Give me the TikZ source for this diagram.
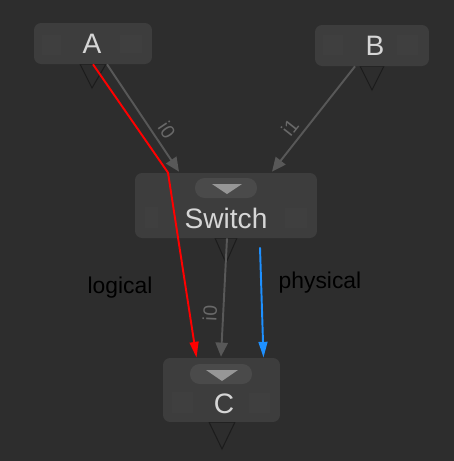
\documentclass[tikz,border=0pt]{standalone}
\usepackage{fontspec}
\setmainfont{Liberation Sans}
\usetikzlibrary{calc}
\usetikzlibrary{positioning}
\usetikzlibrary{arrows.meta}
\definecolor{bg}{RGB}{45,45,45}
\definecolor{nodegray}{RGB}{61,61,61}
\definecolor{pillgray}{RGB}{74,74,74}
\definecolor{padgray}{RGB}{63,63,63}
\definecolor{textgray}{RGB}{214,214,214}
\definecolor{markgray}{RGB}{150,150,150}
\definecolor{edgegray}{RGB}{88,88,88}
\definecolor{labelgray}{RGB}{105,105,105}
\definecolor{outgray}{RGB}{28,28,28}
\definecolor{logicred}{RGB}{255,0,0}
\definecolor{physblue}{RGB}{30,144,255}

\tikzset{
	opbox/.style={fill=nodegray, rounded corners=4pt, inner sep=0pt, text=textgray, font=\fontsize{16}{16}\selectfont},
	oppill/.style={fill=pillgray, rounded corners=5.5pt, inner sep=0pt, minimum width=1.24cm, minimum height=0.4cm},
	optext/.style={text=textgray, font=\fontsize{16}{16}\selectfont, inner sep=0pt},
	outtri/.style={draw=outgray, line width=0.6pt},
	pad/.style={fill=padgray},
	wire/.style={draw=edgegray, line width=1.1pt, -{Triangle[length=8pt,width=7pt]}},
	wirelabel/.style={text=labelgray, font=\fontsize{11}{11}\selectfont, sloped, above=2pt, inner sep=1pt},
	route/.style={line width=1.1pt, -{Triangle[length=9pt,width=5pt]}},
	routelabel/.style={text=black, font=\fontsize{13}{13}\selectfont}
}

\begin{document}
\begin{tikzpicture}[x=0.02cm, y=-0.02cm]

	%%% Background
	\fill[bg] (0,0) rectangle (454,461);
	\useasboundingbox (0,0) rectangle (454,461);

	%%% Output triangles
	\draw[outtri] (80,64) -- (106,64) -- (92,88) -- cycle;
	\draw[outtri] (360,66) -- (384,66) -- (372,90) -- cycle;
	\draw[outtri] (215,238) -- (237,238) -- (226,263) -- cycle;
	\draw[outtri] (209,422) -- (235,422) -- (222,449) -- cycle;

	%%% Nodes
	\node[opbox, minimum width=2.36cm, minimum height=0.82cm] (a) at (93,43.5) {};
	\node[opbox, minimum width=2.28cm, minimum height=0.82cm] (b) at (372,45.5) {};
	\node[opbox, minimum width=3.64cm, minimum height=1.30cm] (sw) at (226,205.5) {};
	\node[opbox, minimum width=2.34cm, minimum height=1.28cm] (c) at (221.5,390) {};

	%%% Faint pads
	\fill[pad] (42,35) rectangle (61,55);
	\fill[pad] (120,35) rectangle (142,53);
	\fill[pad] (323,35) rectangle (343,55);
	\fill[pad] (397,35) rectangle (418,55);
	\fill[pad] (145,207) rectangle (158,228);
	\fill[pad] (285,208) rectangle (307,228);
	\fill[pad] (172,392) rectangle (193,413);
	\fill[pad] (249,393) rectangle (270,413);

	%%% Pills with markers
	\node[oppill] (swpill) at (226,188) {};
	\fill[markgray] ($(swpill)+(-14,-4)$) -- ($(swpill)+(16,-4)$) -- ($(swpill)+(1,6)$) -- cycle;
	\node[oppill] (cpill) at (221,374) {};
	\fill[markgray] ($(cpill)+(-15,-4)$) -- ($(cpill)+(17,-4)$) -- ($(cpill)+(1,7)$) -- cycle;

	%%% Node texts
	\node[optext] (atext) at (92,44) {A};
	\node[optext] (btext) at (375,46) {B};
	\node[optext] (swtext) at (226,218) {Switch};
	\node[optext] (ctext) at (224,404) {C};

	%%% Wires
	\draw[wire] ($(a.south)+(14,0)$) -- node[wirelabel, pos=0.68] {i0} ($(sw.north)+(-47,-1)$);
	\draw[wire] ($(b.south)+(-17,0)$) -- node[wirelabel, pos=0.66] {i1} ($(sw.north)+(46,-1)$);
	\draw[wire] ($(sw.south)+(1,0)$) -- node[wirelabel, pos=0.64] {i0} ($(c.north)+(-0.5,-1)$);

	%%% Logical and physical routes
	\draw[route, logicred] (a.south) -- ($(sw.north)+(-58,0)$) -- ($(c.north)+(-25,0)$);
	\draw[route, physblue] ($(sw.south)+(34,9)$) -- ($(c.north)+(42,0)$);
	\node[routelabel] (logical) at (120,288) {logical};
	\node[routelabel] (physical) at (320,283) {physical};

\end{tikzpicture}
\end{document}
